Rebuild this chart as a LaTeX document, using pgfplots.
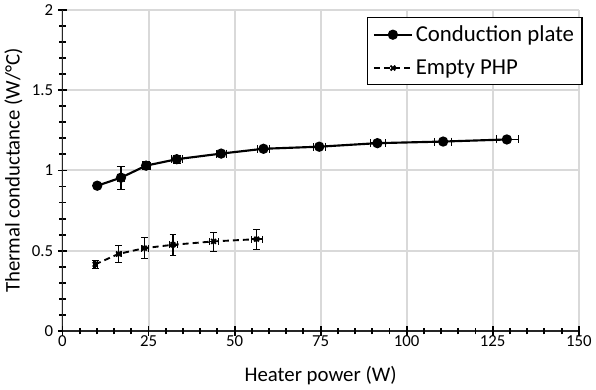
\documentclass[border=0pt]{standalone}
\usepackage{pgfplots}
\pgfplotsset{compat=1.18}
\usepackage{fontspec}
\setmainfont{Carlito}
\definecolor{gridgray}{RGB}{217,217,217}

\begin{document}
\begin{tikzpicture}
\begin{axis}[
    width=384.75pt, height=239.25pt,
    scale only axis,
    clip=false,
    xmin=0, xmax=150, ymin=0, ymax=2,
    xtick={0,25,...,150}, ytick={0,0.5,1,1.5,2},
    minor y tick num=4,
    xtick pos=bottom, ytick pos=left,
    axis line style={draw=none},
    ytick align=center,
    major tick length=7pt, minor tick length=5pt,
    x tick style={draw=none},
    y tick style={black, line width=1.4pt},
    xmajorgrids, ymajorgrids,
    major grid style={gridgray, line width=1.5pt},
    xlabel={Heater power (W)},
    ylabel={Thermal conductance (W/°C)},
    xlabel style={yshift=-8pt},
    label style={font=\fontsize{15.5}{17}\selectfont},
    tick label style={font=\fontsize{12.5}{14}\selectfont},
    /pgf/number format/assume math mode=true,
    legend style={at={(1.008,0.978)}, anchor=north east, draw=black, line width=1.1pt,
        font=\fontsize{17}{19}\selectfont, row sep=8pt, inner sep=4pt,
        cells={anchor=west}},
    legend cell align=left,
    legend image code/.code={\draw[mark repeat=2, mark phase=2]
        plot coordinates {(0cm,0cm) (0.5cm,0cm) (1cm,0cm)};},
]
\draw[black!85, line width=1.3pt] (rel axis cs:0,1) -- (rel axis cs:0,0) -- (rel axis cs:1,0);
% x ticks drawn by hand
\pgfplotsinvokeforeach{0,25,50,75,100,125,150}{
    \draw[black, line width=1.4pt] (axis cs:#1,0) ++(0,-3.5pt) -- ++(0,7pt);}
\pgfplotsinvokeforeach{5,10,15,20,30,35,40,45,55,60,65,70,80,85,90,95,105,110,115,120,130,135,140,145}{
    \draw[black, line width=1.4pt] (axis cs:#1,0) ++(0,-2.5pt) -- ++(0,5pt);}
\addplot[black, line width=1.6pt, mark=*, mark size=3pt,
    error bars/.cd, x dir=both, x explicit, y dir=both, y explicit,
    error bar style={line width=1.1pt, solid}]
coordinates {
    (10.1,0.905) +- (0.5,0.01)
    (17.0,0.955) +- (1.0,0.07)
    (24.3,1.03) +- (1.2,0.025)
    (33.2,1.07) +- (1.5,0.025)
    (46.1,1.105) +- (1.5,0.015)
    (58.4,1.135) +- (1.8,0.01)
    (74.6,1.148) +- (1.8,0.01)
    (91.5,1.17) +- (2.2,0.01)
    (110.6,1.18) +- (2.5,0.01)
    (129.1,1.193) +- (3.2,0.01)
};
\addlegendentry{Conduction plate}
\addplot[black, line width=1.4pt, dash pattern=on 4.5pt off 3pt, mark=x, mark size=2.5pt,
    mark options={solid},
    error bars/.cd, x dir=both, x explicit, y dir=both, y explicit,
    error bar style={line width=1.1pt, solid}]
coordinates {
    (9.5,0.415) +- (0.5,0.025)
    (16.3,0.48) +- (0.8,0.055)
    (23.8,0.516) +- (1.0,0.065)
    (32.1,0.537) +- (1.2,0.065)
    (43.9,0.558) +- (1.3,0.06)
    (56.4,0.572) +- (1.6,0.06)
};
\addlegendentry{Empty PHP}
\end{axis}
\end{tikzpicture}
\end{document}
